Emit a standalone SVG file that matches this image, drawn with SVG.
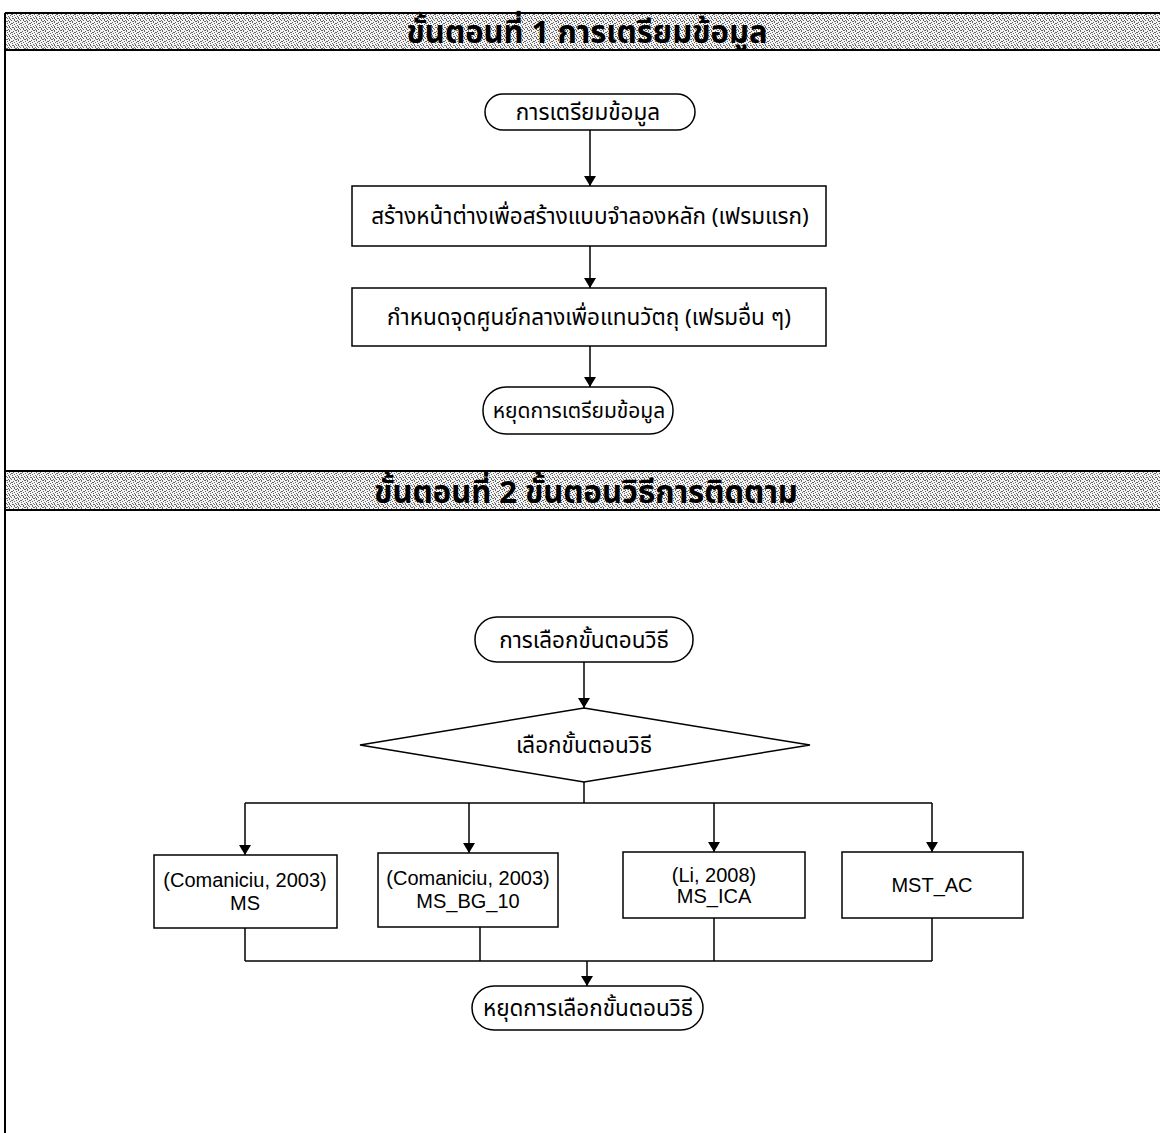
<svg xmlns="http://www.w3.org/2000/svg" width="1160" height="1133" viewBox="0 0 1160 1133">
  <style>
    .th { font-family: "Noto Sans Thai", "Noto Sans", "DejaVu Sans", sans-serif; fill: #000; }
    .hd { font-size: 31px; font-weight: bold; }
    .nt { font-size: 22.5px; }
    .sm { font-size: 21px; }
    .en { font-family: "Liberation Sans", Arial, sans-serif; font-size: 20px; fill: #000; }
    .box { fill: #fff; stroke: #000; stroke-width: 1.5; }
    .frame { fill: none; stroke: #000; stroke-width: 2; }
    .ln { fill: none; stroke: #000; stroke-width: 1.5; }
  </style>
  <defs>
    <!-- grainy halftone used for the section header bands -->
    <pattern id="grain" width="9" height="9" patternUnits="userSpaceOnUse">
      <rect width="9" height="9" fill="#f4f4f4"/>
      <g fill="#666" shape-rendering="crispEdges">
        <rect x="0" y="0" width="1" height="1"/>
        <rect x="3" y="0" width="2" height="1"/>
        <rect x="7" y="0" width="1" height="1"/>
        <rect x="1" y="1" width="1" height="1"/>
        <rect x="5" y="1" width="1" height="2"/>
        <rect x="8" y="2" width="1" height="1"/>
        <rect x="2" y="2" width="1" height="1"/>
        <rect x="0" y="3" width="1" height="2"/>
        <rect x="6" y="3" width="2" height="1"/>
        <rect x="4" y="4" width="1" height="1"/>
        <rect x="2" y="5" width="2" height="1"/>
        <rect x="7" y="5" width="1" height="1"/>
        <rect x="1" y="6" width="1" height="1"/>
        <rect x="5" y="6" width="1" height="1"/>
        <rect x="8" y="7" width="1" height="1"/>
        <rect x="3" y="7" width="1" height="1"/>
        <rect x="0" y="8" width="1" height="1"/>
        <rect x="6" y="8" width="1" height="1"/>
      </g>
    </pattern>
    <marker id="arr" viewBox="0 0 10 12" refX="10" refY="6" markerWidth="10" markerHeight="12" markerUnits="userSpaceOnUse" orient="auto">
      <path d="M0,0 L10,6 L0,12 Z" fill="#000"/>
    </marker>
  </defs>

  <rect width="1160" height="1133" fill="#fff"/>

  <!-- section frames and header bands -->
  <g id="section1-header">
    <rect x="5" y="13" width="1160" height="37" fill="url(#grain)"/>
    <text class="th hd" x="587" y="43" text-anchor="middle">ขั้นตอนที่ 1 การเตรียมข้อมูล</text>
  </g>
  <g id="section2-header">
    <rect x="5" y="471" width="1160" height="39" fill="url(#grain)"/>
    <text class="th hd" x="586" y="503" text-anchor="middle">ขั้นตอนที่ 2 ขั้นตอนวิธีการติดตาม</text>
  </g>
  <g id="frame">
    <line class="frame" x1="5" y1="13" x2="1160" y2="13"/>
    <line class="frame" x1="5" y1="50" x2="1160" y2="50"/>
    <line class="frame" x1="5" y1="471" x2="1160" y2="471"/>
    <line class="frame" x1="5" y1="510" x2="1160" y2="510"/>
    <line class="frame" x1="5" y1="13" x2="5" y2="1133"/>
  </g>

  <!-- connectors -->
  <g id="connectors">
    <line class="ln" x1="590" y1="130" x2="590" y2="186" marker-end="url(#arr)"/>
    <line class="ln" x1="590" y1="246" x2="590" y2="288" marker-end="url(#arr)"/>
    <line class="ln" x1="590" y1="346" x2="590" y2="387" marker-end="url(#arr)"/>

    <line class="ln" x1="584" y1="662" x2="584" y2="708" marker-end="url(#arr)"/>
    <line class="ln" x1="584" y1="782" x2="584" y2="803"/>
    <line class="ln" x1="245" y1="803" x2="932" y2="803"/>
    <line class="ln" x1="245" y1="803" x2="245" y2="855" marker-end="url(#arr)"/>
    <line class="ln" x1="469" y1="803" x2="469" y2="853" marker-end="url(#arr)"/>
    <line class="ln" x1="714" y1="803" x2="714" y2="852" marker-end="url(#arr)"/>
    <line class="ln" x1="932" y1="803" x2="932" y2="852" marker-end="url(#arr)"/>

    <line class="ln" x1="245" y1="928" x2="245" y2="961"/>
    <line class="ln" x1="480" y1="927" x2="480" y2="961"/>
    <line class="ln" x1="714" y1="918" x2="714" y2="961"/>
    <line class="ln" x1="932" y1="918" x2="932" y2="961"/>
    <line class="ln" x1="245" y1="961" x2="932" y2="961"/>
    <line class="ln" x1="587" y1="961" x2="587" y2="986" marker-end="url(#arr)"/>
  </g>

  <!-- section 1 nodes -->
  <g id="start-prep">
    <rect class="box" x="485" y="94" width="210" height="36" rx="18"/>
    <text class="th nt" x="588" y="120" text-anchor="middle">การเตรียมข้อมูล</text>
  </g>
  <g id="build-model">
    <rect class="box" x="352" y="186" width="474" height="60"/>
    <text class="th nt" x="590" y="224" text-anchor="middle">สร้างหน้าต่างเพื่อสร้างแบบจำลองหลัก (เฟรมแรก)</text>
  </g>
  <g id="set-center">
    <rect class="box" x="352" y="288" width="474" height="58"/>
    <text class="th nt" x="589" y="325" text-anchor="middle">กำหนดจุดศูนย์กลางเพื่อแทนวัตถุ (เฟรมอื่น ๆ)</text>
  </g>
  <g id="end-prep">
    <rect class="box" x="483" y="387" width="190" height="47" rx="23"/>
    <text class="th sm" x="579" y="418" text-anchor="middle">หยุดการเตรียมข้อมูล</text>
  </g>

  <!-- section 2 nodes -->
  <g id="start-select">
    <rect class="box" x="475" y="617" width="218" height="45" rx="22"/>
    <text class="th nt" x="584" y="648" text-anchor="middle">การเลือกขั้นตอนวิธี</text>
  </g>
  <g id="choose">
    <polygon class="box" points="584,708 810,745 584,782 360,745"/>
    <text class="th nt" x="584" y="753" text-anchor="middle">เลือกขั้นตอนวิธี</text>
  </g>
  <g id="ms">
    <rect class="box" x="154" y="855" width="183" height="73"/>
    <text class="en" x="245" y="887" text-anchor="middle">(Comaniciu, 2003)</text>
    <text class="en" x="245" y="910" text-anchor="middle">MS</text>
  </g>
  <g id="ms-bg-10">
    <rect class="box" x="378" y="853" width="180" height="74"/>
    <text class="en" x="468" y="885" text-anchor="middle">(Comaniciu, 2003)</text>
    <text class="en" x="468" y="908" text-anchor="middle">MS_BG_10</text>
  </g>
  <g id="ms-ica">
    <rect class="box" x="623" y="852" width="182" height="66" stroke-width="2.5"/>
    <text class="en" x="714" y="882" text-anchor="middle">(Li, 2008)</text>
    <text class="en" x="714" y="903" text-anchor="middle">MS_ICA</text>
  </g>
  <g id="mst-ac">
    <rect class="box" x="842" y="852" width="181" height="66"/>
    <text class="en" x="932" y="892" text-anchor="middle">MST_AC</text>
  </g>
  <g id="end-select">
    <rect class="box" x="472" y="986" width="231" height="44" rx="22"/>
    <text class="th nt" x="588" y="1016" text-anchor="middle">หยุดการเลือกขั้นตอนวิธี</text>
  </g>
</svg>
